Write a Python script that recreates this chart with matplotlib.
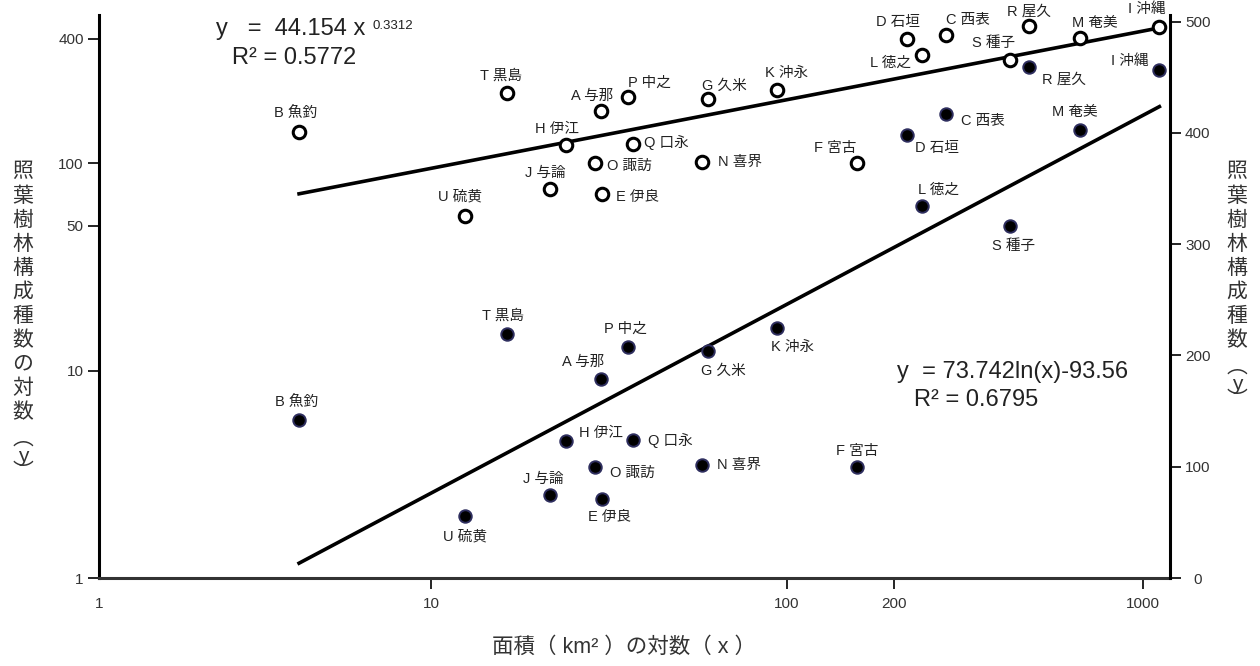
import matplotlib
matplotlib.use("Agg")
import matplotlib.pyplot as plt
import numpy as np

FONT = ['Liberation Sans', 'Noto Sans CJK JP', 'DejaVu Sans']
plt.rcParams['font.family'] = FONT

# island labels, area (km2) and number of laurel forest species
names = ['A 与那', 'B 魚釣', 'C 西表', 'D 石垣', 'E 伊良', 'F 宮古', 'G 久米',
         'H 伊江', 'I 沖縄', 'J 与論', 'K 沖永', 'L 徳之', 'M 奄美', 'N 喜界',
         'O 諏訪', 'P 中之', 'Q 口永', 'R 屋久', 'S 種子', 'T 黒島', 'U 硫黄']
area = [30.1, 4.26, 279, 217, 30.2, 157, 60.0,
        23.9, 1112, 21.6, 93.7, 240, 667, 57.9,
        28.8, 35.8, 36.9, 478, 423, 16.4, 12.5]
species = [179, 142, 417, 398, 71, 100, 204,
           123, 457, 75, 225, 334, 403, 102,
           100, 208, 124, 459, 316, 219, 56]

# fitted curves given in the chart
pow_a, pow_b = 44.154, 0.3312
ln_a, ln_b = 73.742, -93.56

# label offsets in pixels (dx, dy up) for the open / filled markers
open_off = [(-9, 15), (-3, 18), (22, 15), (-9, 17), (36, -3), (-22, 15), (16, 13),
            (-9, 16), (-13, 18), (-5, 16), (10, 17), (-32, -8), (14, 15), (38, 0),
            (35, -3), (21, 15), (34, 2), (0, 15), (-16, 17), (-6, 17), (-5, 19)]
fill_off = [(-18, 17), (-2, 17), (37, -7), (30, -13), (8, -18), (0, 16), (15, -20),
            (35, 8), (-30, 9), (-7, 16), (16, -19), (16, 17), (-6, 18), (37, 0),
            (38, -6), (-3, 18), (38, 0), (35, -12), (4, -20), (-4, 19), (0, -21)]

W, H = 1260, 666
fig = plt.figure(figsize=(W / 100, H / 100), dpi=100)
L, R, T, B = 99, 1170, 15, 578
ax = fig.add_axes([L / W, (H - B) / H, (R - L) / W, (B - T) / H])
ax2 = ax.twinx()

x = np.array(area)
y = np.array(species)
xf = np.geomspace(x.min(), x.max(), 200)

# log-log (left axis): open circles + power fit
ax.plot(xf, pow_a * xf ** pow_b, color='black', lw=2.6, zorder=2)
ax.plot(x, y, 'o', ms=9, mfc='white', mec='black', mew=2.2, zorder=3)
ax.set_xscale('log')
ax.set_yscale('log')
ax.set_xlim(1.168, 1191)
ax.set_ylim(1, 520)

# semi-log (right axis): filled circles + ln fit
ax2.plot(xf, ln_a * np.log(xf) + ln_b, color='black', lw=2.6, zorder=2)
ax2.plot(x, y, 'o', ms=9, mfc='black', mec='#2e2e5e', mew=1.4, zorder=3)
ax2.set_ylim(0, 506)

lab_kw = dict(textcoords='offset pixels', ha='center', va='center',
              fontsize=10.5, color='#222222', family=FONT)
for i, n in enumerate(names):
    ax.annotate(n, (x[i], y[i]), xytext=open_off[i], **lab_kw)
    ax2.annotate(n, (x[i], y[i]), xytext=fill_off[i], **lab_kw)

# ticks
ax.set_xticks([1.168, 10, 100, 200, 1000])
ax.set_xticklabels(['1', '10', '100', '200', '1000'])
ax.xaxis.set_minor_locator(matplotlib.ticker.NullLocator())
ax.xaxis.get_major_ticks()[0].tick1line.set_visible(False)
ax.set_yticks([1, 10, 50, 100, 400])
ax.set_yticklabels(['1', '10', '50', '100', '400'])
ax.yaxis.set_minor_locator(matplotlib.ticker.NullLocator())
ax2.set_yticks([0, 100, 200, 300, 400, 500])
ax2.yaxis.set_minor_locator(matplotlib.ticker.NullLocator())

ax.tick_params(axis='x', length=8, width=1.2, pad=6, labelsize=11, labelcolor='#333333')
ax.tick_params(axis='y', length=8, width=1.2, pad=3, labelsize=11, labelcolor='#333333')
ax2.tick_params(axis='y', length=8, width=1.2, pad=12, labelsize=11, labelcolor='#333333')
for lab in ax2.get_yticklabels():
    lab.set_horizontalalignment('center')

for s in ['top', 'right']:
    ax.spines[s].set_visible(False)
for s in ['top', 'left', 'bottom']:
    ax2.spines[s].set_visible(False)
ax.spines['left'].set_linewidth(2.2)
ax.spines['bottom'].set_linewidth(2.2)
ax.spines['bottom'].set_color('#333333')
ax2.spines['right'].set_linewidth(2.2)

# equations
eq_kw = dict(fontsize=17, color='#222222', family=FONT, va='center', ha='left')
t1 = fig.text(216 / W, 1 - 29 / H, 'y   =  44.154 x', **eq_kw)
ax.annotate('0.3312', xy=(1, 1), xycoords=t1, xytext=(7, -2),
            textcoords='offset pixels', ha='left', va='top', fontsize=9.5,
            color='#222222', family=FONT)
fig.text(232 / W, 1 - 58 / H, 'R² = 0.5772', **eq_kw)
fig.text(897 / W, 1 - 372 / H, 'y  = 73.742ln(x)-93.56', **eq_kw)
fig.text(914 / W, 1 - 400 / H, 'R² = 0.6795', **eq_kw)


def vertical_label(xc, y0, text):
    # stack characters one below another, as in the original
    yy = y0
    prev = None
    for ch in text:
        if prev is not None:
            if ch == '︵':
                yy += 27
            elif ch in 'y︶':
                yy += 17
            else:
                yy += 24
        fig.text(xc / W, 1 - yy / H, ch, ha='center', va='center',
                 fontsize=15, color='#333333', family=FONT)
        prev = ch


vertical_label(23, 172, '照葉樹林構成種数の対数︵y︶')
vertical_label(1237, 172, '照葉樹林構成種数︵y︶')

fig.text(624 / W, 1 - 647 / H, '面積（ km² ）の対数（ x ）', ha='center', va='center',
         fontsize=15.5, color='#333333', family=FONT)

fig.savefig('out.png', dpi=100)
